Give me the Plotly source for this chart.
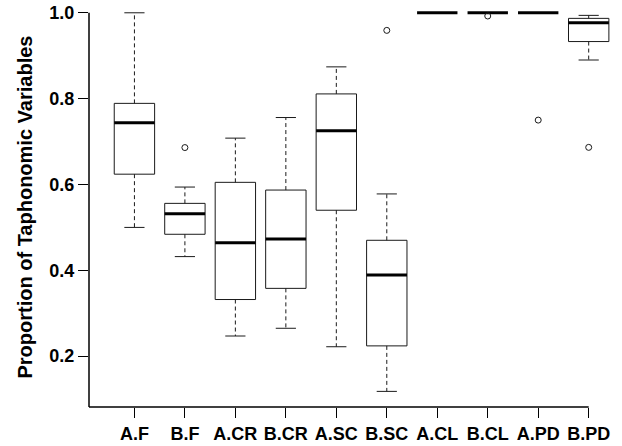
import plotly.graph_objects as go

categories = ["A.F", "B.F", "A.CR", "B.CR", "A.SC", "B.SC", "A.CL", "B.CL", "A.PD", "B.PD"]
lower_whisker = [0.500, 0.432, 0.247, 0.265, 0.222, 0.118, 1.0, 1.0, 1.0, 0.890]
q1            = [0.624, 0.484, 0.332, 0.358, 0.540, 0.224, 1.0, 1.0, 1.0, 0.933]
median        = [0.744, 0.532, 0.464, 0.473, 0.725, 0.389, 1.0, 1.0, 1.0, 0.977]
q3            = [0.789, 0.556, 0.605, 0.587, 0.811, 0.470, 1.0, 1.0, 1.0, 0.987]
upper_whisker = [1.000, 0.594, 0.708, 0.756, 0.874, 0.578, 1.0, 1.0, 1.0, 0.994]
outlier_cat = ["B.F", "B.SC", "B.CL", "A.PD", "B.PD"]
outlier_val = [0.686, 0.959, 0.9925, 0.750, 0.6865]
y_ticks = [0.2, 0.4, 0.6, 0.8, 1.0]

pos = {c: i + 1 for i, c in enumerate(categories)}
half_box = 0.4
half_cap = 0.2

box_x, box_y = [], []
med_x, med_y = [], []
wh_x, wh_y = [], []
cap_x, cap_y = [], []
for i, c in enumerate(categories):
    p = pos[c]
    if q3[i] > q1[i]:
        box_x += [p - half_box, p + half_box, p + half_box, p - half_box, p - half_box, None]
        box_y += [q1[i], q1[i], q3[i], q3[i], q1[i], None]
    med_x += [p - half_box, p + half_box, None]
    med_y += [median[i], median[i], None]
    if upper_whisker[i] > q3[i]:
        wh_x += [p, p, None]
        wh_y += [q3[i], upper_whisker[i], None]
        cap_x += [p - half_cap, p + half_cap, None]
        cap_y += [upper_whisker[i], upper_whisker[i], None]
    if lower_whisker[i] < q1[i]:
        wh_x += [p, p, None]
        wh_y += [q1[i], lower_whisker[i], None]
        cap_x += [p - half_cap, p + half_cap, None]
        cap_y += [lower_whisker[i], lower_whisker[i], None]

line_col = "#1a1a1a"
fig = go.Figure()
fig.add_trace(go.Scatter(x=wh_x, y=wh_y, mode="lines",
                         line=dict(color=line_col, width=1, dash="4px,3px"), hoverinfo="skip"))
fig.add_trace(go.Scatter(x=cap_x, y=cap_y, mode="lines",
                         line=dict(color=line_col, width=1), hoverinfo="skip"))
fig.add_trace(go.Scatter(x=box_x, y=box_y, mode="lines",
                         line=dict(color=line_col, width=1), hoverinfo="skip"))
fig.add_trace(go.Scatter(x=med_x, y=med_y, mode="lines",
                         line=dict(color="black", width=3), hoverinfo="skip"))
fig.add_trace(go.Scatter(x=[pos[c] for c in outlier_cat], y=outlier_val, mode="markers",
                         marker=dict(symbol="circle-open", size=6, color=line_col,
                                     line=dict(width=1, color=line_col)),
                         cliponaxis=False))

x_range = [0.1, 10.66]
y_range = [0.0816, 1.0298]
font_fam = "Liberation Sans, Arial, sans-serif"

fig.update_layout(
    width=622, height=446,
    margin=dict(l=89, r=0, t=0, b=39),
    paper_bgcolor="white", plot_bgcolor="white",
    showlegend=False,
    font=dict(family=font_fam, color="black"),
    xaxis=dict(range=x_range, tickvals=[pos[c] for c in categories], ticktext=categories,
               ticks="outside", ticklen=10, tickwidth=1.3, tickcolor="black",
               showgrid=False, zeroline=False, showline=False,
               tickfont=dict(family=font_fam, size=18, weight="bold", color="black")),
    yaxis=dict(range=y_range, tickvals=y_ticks, ticktext=[f"{v:.1f}" for v in y_ticks],
               ticks="outside", ticklen=10, tickwidth=1.3, tickcolor="black",
               showgrid=False, zeroline=False, showline=False,
               tickfont=dict(family=font_fam, size=18, weight="bold", color="black")),
    shapes=[
        dict(type="line", xref="x", yref="paper", x0=x_range[0], x1=pos[categories[-1]],
             y0=0, y1=0, line=dict(color="black", width=1.5)),
        dict(type="line", xref="paper", yref="y", x0=0, x1=0, y0=y_range[0], y1=max(y_ticks),
             line=dict(color="black", width=1.5)),
    ],
    annotations=[
        dict(text="Proportion of Taphonomic Variables", xref="paper", yref="paper",
             x=0, y=0.49, xanchor="center", yanchor="middle", xshift=-64,
             textangle=-90, showarrow=False,
             font=dict(family=font_fam, size=20, weight="bold", color="black")),
    ],
)

fig.write_html("out.html")
